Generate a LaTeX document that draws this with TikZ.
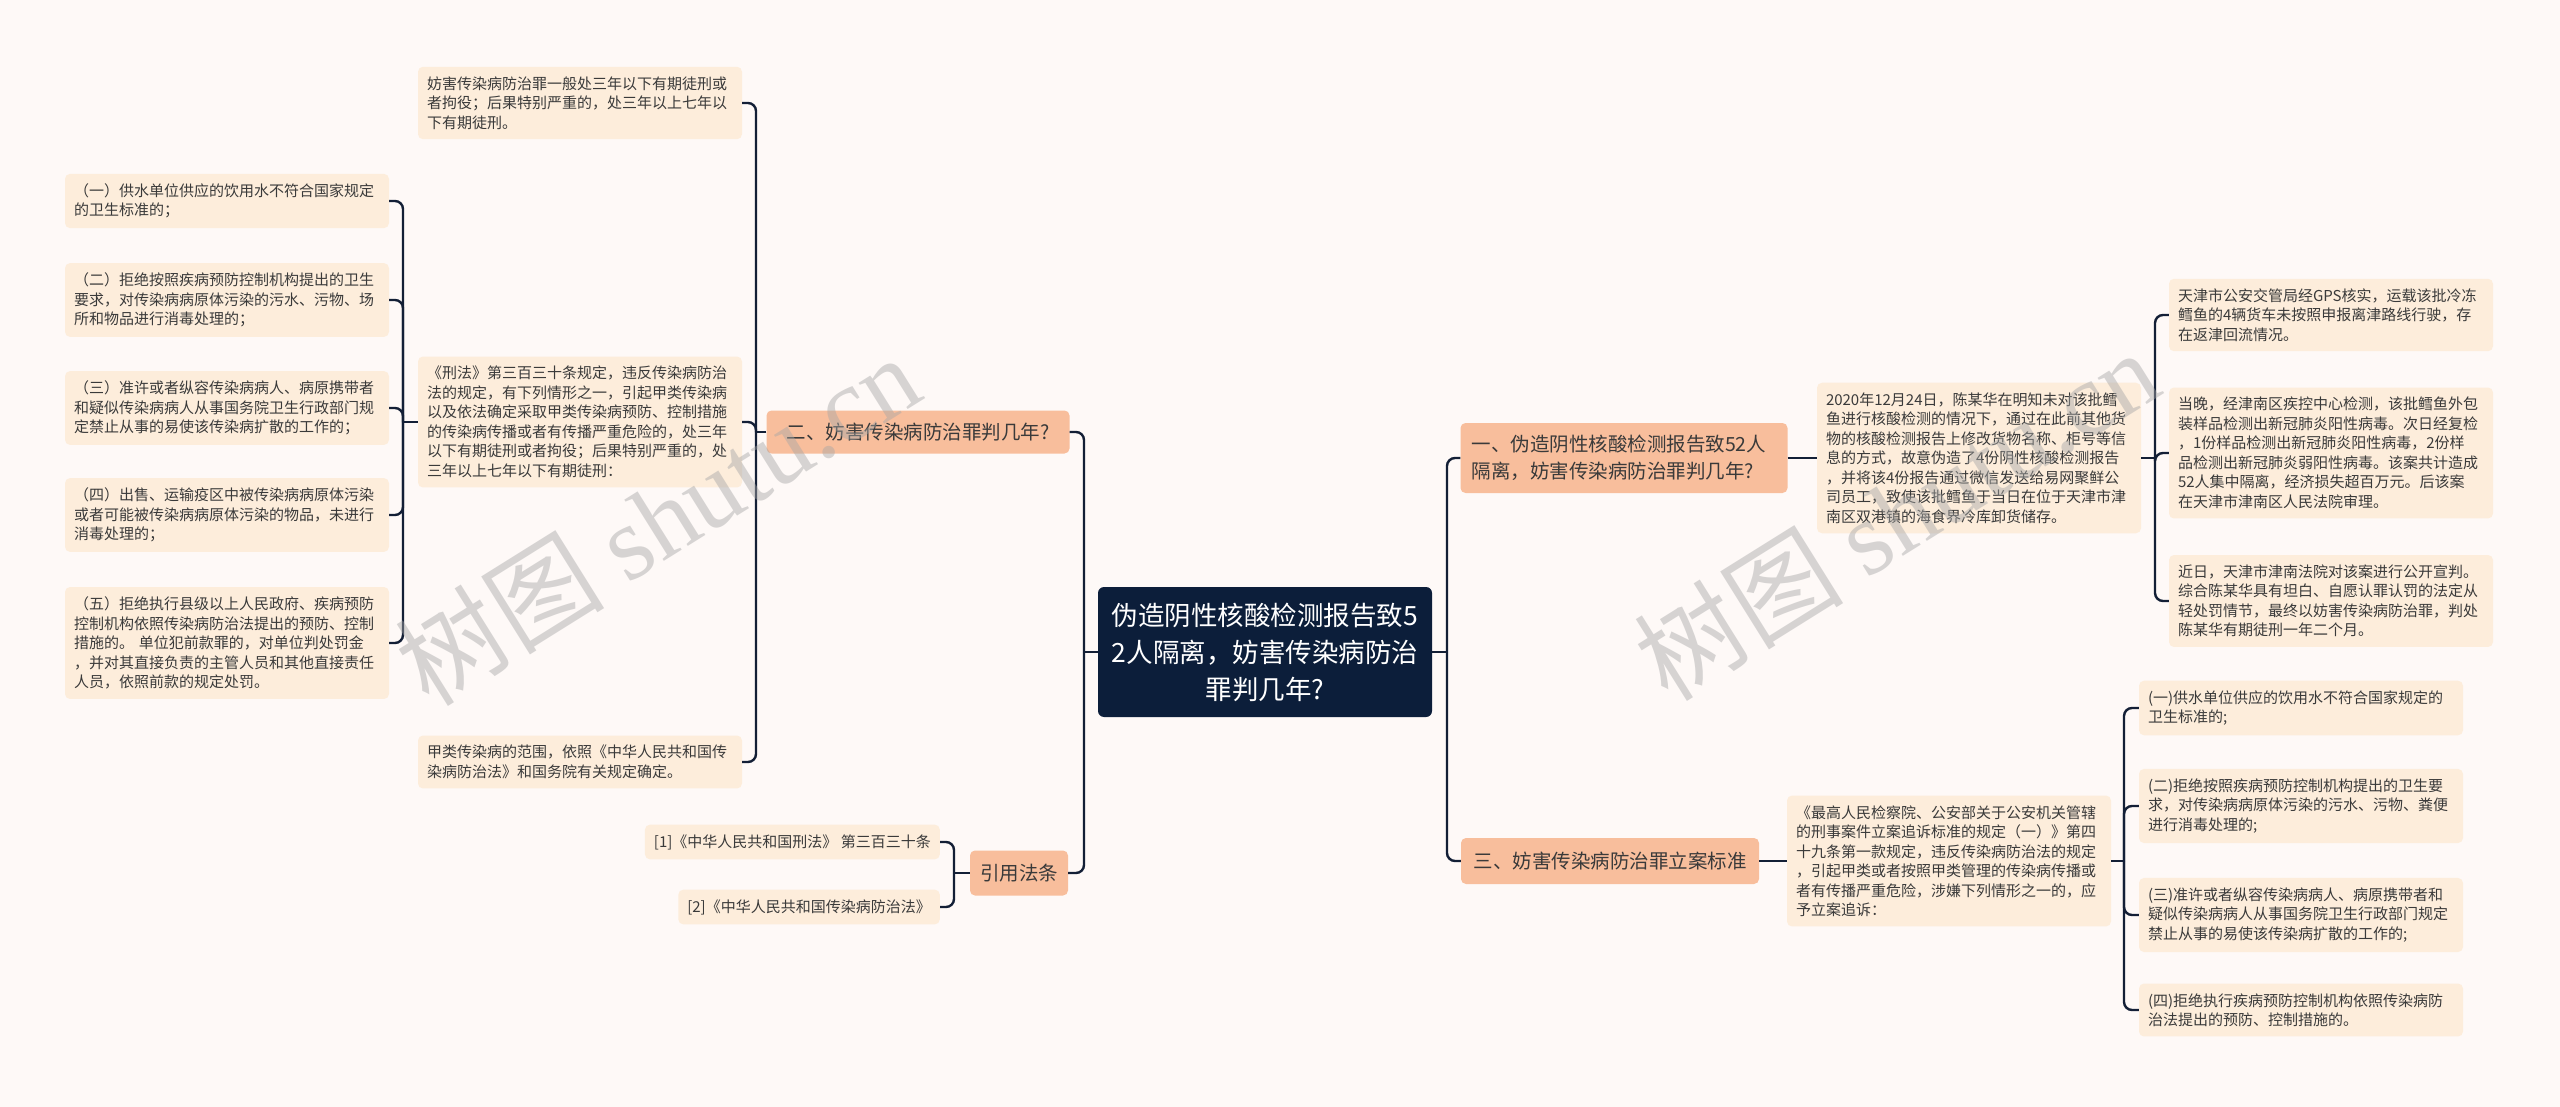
\documentclass[tikz,border=0pt]{standalone}
\usepackage{fontspec}
\setmainfont{Noto Sans CJK SC}
\newfontfamily\wmserif{Liberation Serif}
\definecolor{bgc}{HTML}{FEF9F7}
\definecolor{leafc}{HTML}{FDEDDB}
\definecolor{mainc}{HTML}{F8BE9C}
\definecolor{rootc}{HTML}{0C1E3A}
\definecolor{txtc}{HTML}{3A3A3A}
\definecolor{linec}{HTML}{131F36}
\tikzset{
  leafbox/.style={fill=leafc, rounded corners=5pt, text=txtc, font=\fontsize{15}{19.5}\selectfont, text width=306pt, align=left, inner xsep=9pt, inner ysep=9.75pt},
  leafone/.style={fill=leafc, rounded corners=5pt, text=txtc, font=\fontsize{15}{19.5}\selectfont, inner xsep=9pt, inner ysep=9.75pt},
  mainbox/.style={fill=mainc, rounded corners=5pt, text=txtc, font=\fontsize{19.5}{27}\selectfont, inner xsep=11pt, inner ysep=11.5pt},
  rootbox/.style={fill=rootc, rounded corners=6pt, text=white, font=\fontsize{26.5}{37}\selectfont, text width=310pt, align=center, minimum width=334pt, minimum height=130pt},
  conn/.style={draw=linec, line width=2.4pt, rounded corners=8pt},
  wmark/.style={text=gray!70, opacity=0.45, rotate=32, inner sep=0pt}
}
\begin{document}
\begin{tikzpicture}[x=1pt,y=-1pt]
\useasboundingbox (0,0) rectangle (2560,1107);
\fill[bgc] (0,0) rectangle (2560,1107);

% root
\node[rootbox] (root) at (1265,652) {伪造阴性核酸检测报告致5\\2人隔离，妨害传染病防治\\罪判几年?};

% level 1
\node[mainbox, minimum width=303pt, minimum height=43pt] (n2) at (918,432) {二、妨害传染病防治罪判几年?};
\node[mainbox, minimum width=98pt, minimum height=45pt, inner xsep=6pt] (yin) at (1019,873) {引用法条};
\node[mainbox, text width=305pt, align=left, minimum height=70pt] (n1) at (1624,458) {一、伪造阴性核酸检测报告致52人\\隔离，妨害传染病防治罪判几年?};
\node[mainbox, minimum width=298pt, minimum height=46pt] (n3) at (1610,861) {三、妨害传染病防治罪立案标准};

% left leaves of n2
\node[leafbox] (t1) at (580,103) {妨害传染病防治罪一般处三年以下有期徒刑或\\者拘役；后果特别严重的，处三年以上七年以\\下有期徒刑。};
\node[leafbox] (xf) at (580,422) {《刑法》第三百三十条规定，违反传染病防治\\法的规定，有下列情形之一，引起甲类传染病\\以及依法确定采取甲类传染病预防、控制措施\\的传染病传播或者有传播严重危险的，处三年\\以下有期徒刑或者拘役；后果特别严重的，处\\三年以上七年以下有期徒刑：};
\node[leafbox] (jl) at (580,762) {甲类传染病的范围，依照《中华人民共和国传\\染病防治法》和国务院有关规定确定。};

% children of xf
\node[leafbox] (c1) at (227,201) {（一）供水单位供应的饮用水不符合国家规定\\的卫生标准的；};
\node[leafbox] (c2) at (227,300) {（二）拒绝按照疾病预防控制机构提出的卫生\\要求，对传染病病原体污染的污水、污物、场\\所和物品进行消毒处理的；};
\node[leafbox] (c3) at (227,408) {（三）准许或者纵容传染病病人、病原携带者\\和疑似传染病病人从事国务院卫生行政部门规\\定禁止从事的易使该传染病扩散的工作的；};
\node[leafbox] (c4) at (227,515) {（四）出售、运输疫区中被传染病病原体污染\\或者可能被传染病病原体污染的物品，未进行\\消毒处理的；};
\node[leafbox] (c5) at (227,643) {（五）拒绝执行县级以上人民政府、疾病预防\\控制机构依照传染病防治法提出的预防、控制\\措施的。 单位犯前款罪的，对单位判处罚金\\，并对其直接负责的主管人员和其他直接责任\\人员，依照前款的规定处罚。};

% children of yin
\node[leafone, anchor=east] (r1) at (940,842) {[1]《中华人民共和国刑法》 第三百三十条};
\node[leafone, anchor=east] (r2) at (940,907) {[2]《中华人民共和国传染病防治法》};

% right side
\node[leafbox] (ev) at (1979,458) {2020年12月24日，陈某华在明知未对该批鳕\\鱼进行核酸检测的情况下，通过在此前其他货\\物的核酸检测报告上修改货物名称、柜号等信\\息的方式，故意伪造了4份阴性核酸检测报告\\，并将该4份报告通过微信发送给易网聚鲜公\\司员工，致使该批鳕鱼于当日在位于天津市津\\南区双港镇的海食界冷库卸货储存。};
\node[leafbox] (e1) at (2331,315) {天津市公安交管局经GPS核实，运载该批冷冻\\鳕鱼的4辆货车未按照申报离津路线行驶，存\\在返津回流情况。};
\node[leafbox] (e2) at (2331,453) {当晚，经津南区疾控中心检测，该批鳕鱼外包\\装样品检测出新冠肺炎阳性病毒。次日经复检\\，1份样品检测出新冠肺炎阳性病毒，2份样\\品检测出新冠肺炎弱阳性病毒。该案共计造成\\52人集中隔离，经济损失超百万元。后该案\\在天津市津南区人民法院审理。};
\node[leafbox] (e3) at (2331,601) {近日，天津市津南法院对该案进行公开宣判。\\综合陈某华具有坦白、自愿认罪认罚的法定从\\轻处罚情节，最终以妨害传染病防治罪，判处\\陈某华有期徒刑一年二个月。};

\node[leafbox] (st) at (1949,861) {《最高人民检察院、公安部关于公安机关管辖\\的刑事案件立案追诉标准的规定（一）》第四\\十九条第一款规定，违反传染病防治法的规定\\，引起甲类或者按照甲类管理的传染病传播或\\者有传播严重危险，涉嫌下列情形之一的，应\\予立案追诉：};
\node[leafbox] (s1) at (2301,708) {(一)供水单位供应的饮用水不符合国家规定的\\卫生标准的;};
\node[leafbox] (s2) at (2301,806) {(二)拒绝按照疾病预防控制机构提出的卫生要\\求，对传染病病原体污染的污水、污物、粪便\\进行消毒处理的;};
\node[leafbox] (s3) at (2301,915) {(三)准许或者纵容传染病病人、病原携带者和\\疑似传染病病人从事国务院卫生行政部门规定\\禁止从事的易使该传染病扩散的工作的;};
\node[leafbox] (s4) at (2301,1010) {(四)拒绝执行疾病预防控制机构依照传染病防\\治法提出的预防、控制措施的。};

% spine coordinates
\coordinate (sp0L) at (1084,652);
\coordinate (sp0R) at (1447,652);
\coordinate (sp2) at (756,432);
\coordinate (spx) at (403,422);
\coordinate (spy) at (954,873);
\coordinate (spe) at (2155,458);
\coordinate (sps) at (2124,861);

% connectors
\draw[conn] (root.west) -- (sp0L);
\draw[conn] (sp0L) |- (n2.east);
\draw[conn] (sp0L) |- (yin.east);
\draw[conn] (root.east) -- (sp0R);
\draw[conn] (sp0R) |- (n1.west);
\draw[conn] (sp0R) |- (n3.west);

\draw[conn] (n2.west) -- (sp2);
\draw[conn] (sp2) |- (t1.east);
\draw[conn] (sp2) |- (xf.east);
\draw[conn] (sp2) |- (jl.east);

\draw[conn] (xf.west) -- (spx);
\draw[conn] (spx) |- (c1.east);
\draw[conn] (spx) |- (c2.east);
\draw[conn] (spx) |- (c3.east);
\draw[conn] (spx) |- (c4.east);
\draw[conn] (spx) |- (c5.east);

\draw[conn] (yin.west) -- (spy);
\draw[conn] (spy) |- (r1.east);
\draw[conn] (spy) |- (r2.east);

\draw[conn] (n1.east) -- (ev.west);
\draw[conn] (ev.east) -- (spe);
\draw[conn] (spe) |- (e1.west);
\draw[conn] (spe) |- (e2.west);
\draw[conn] (spe) |- (e3.west);

\draw[conn] (n3.east) -- (st.west);
\draw[conn] (st.east) -- (sps);
\draw[conn] (sps) |- (s1.west);
\draw[conn] (sps) |- (s2.west);
\draw[conn] (sps) |- (s3.west);
\draw[conn] (sps) |- (s4.west);

% watermarks
\node[wmark] (wm1) at (657,519) {\fontsize{105}{105}\selectfont 树图 {\wmserif shutu.cn}};
\node[wmark] (wm2) at (1896,514) {\fontsize{105}{105}\selectfont 树图 {\wmserif shutu.cn}};
\end{tikzpicture}
\end{document}
